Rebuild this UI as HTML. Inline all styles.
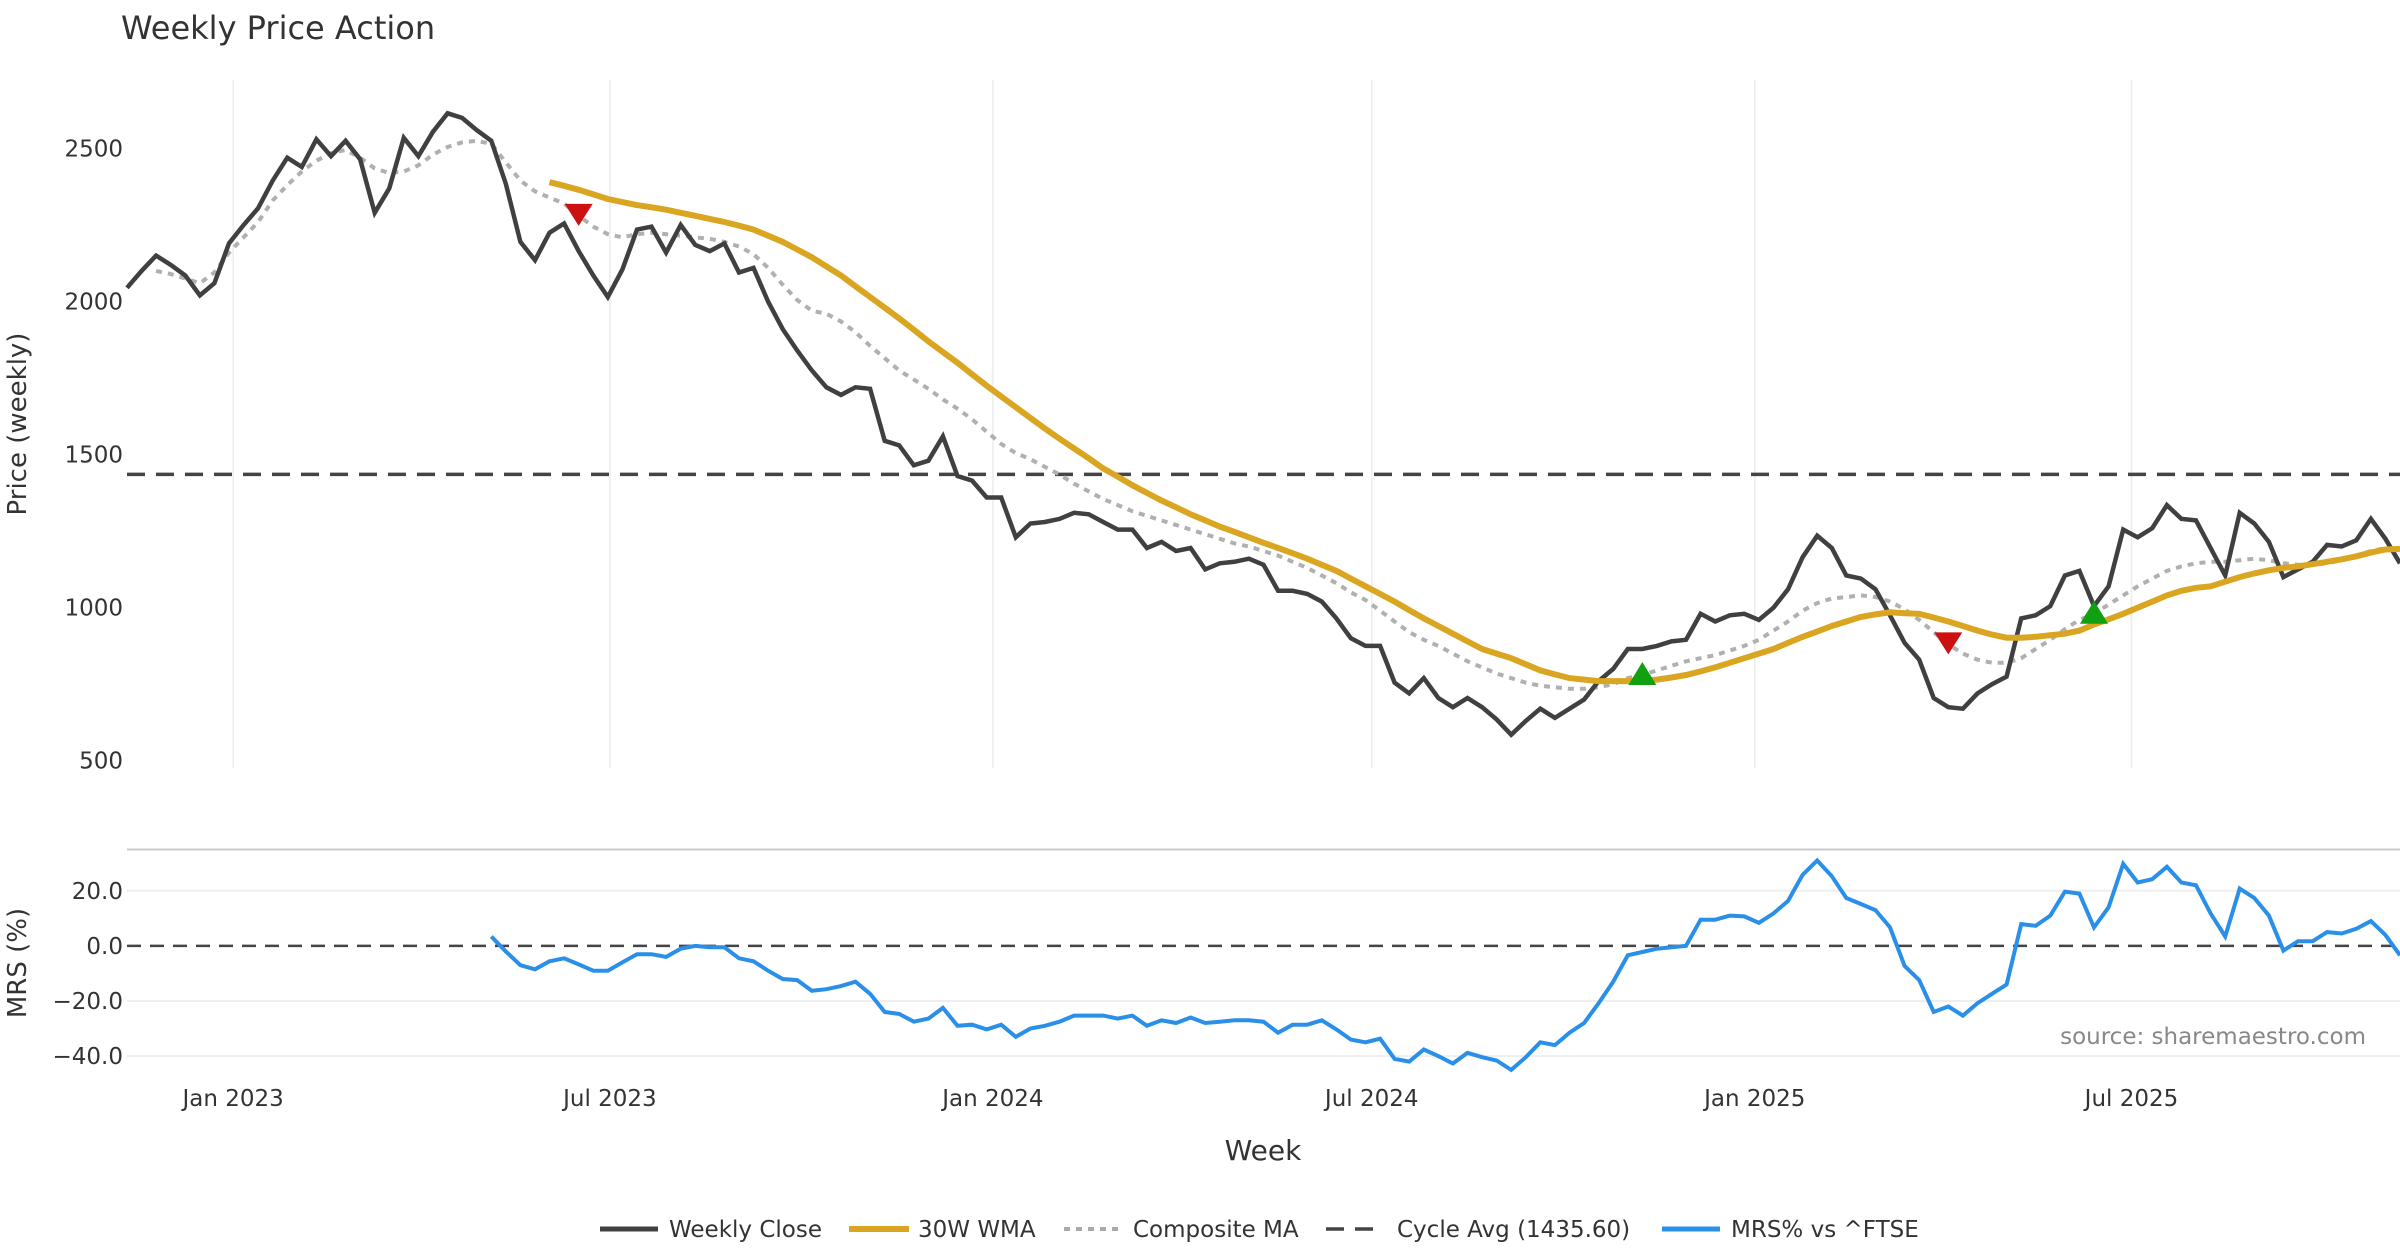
<!DOCTYPE html>
<html><head><meta charset="utf-8"><title>Weekly Price Action</title>
<style>
html,body{margin:0;padding:0;background:#fff;}
svg{display:block;font-family:"DejaVu Sans","Liberation Sans",sans-serif;}
</style></head>
<body>
<svg id="chart" width="2400" height="1260" viewBox="0 0 2400 1260" xmlns="http://www.w3.org/2000/svg">
<text x="121" y="39" font-size="32" fill="#333">Weekly Price Action</text>
<g id="grid"></g>
<g id="series"></g>
<g id="axes"></g>
<text x="0" y="0" font-size="26" fill="#333" text-anchor="middle" transform="translate(26,424) rotate(-90)">Price (weekly)</text>
<text x="0" y="0" font-size="26" fill="#333" text-anchor="middle" transform="translate(26,963) rotate(-90)">MRS (%)</text>
<text x="1263" y="1160" font-size="28" fill="#333" text-anchor="middle">Week</text>
<text x="2366" y="1044" font-size="23" fill="#888" text-anchor="end">source: sharemaestro.com</text>
<g id="legend">
  <g><line x1="600" y1="1229" x2="658" y2="1229" stroke="#404040" stroke-width="5"/><text x="669" y="1237" font-size="23" fill="#333">Weekly Close</text></g>
  <g><line x1="849" y1="1229" x2="909" y2="1229" stroke="#DAA520" stroke-width="6"/><text x="918" y="1237" font-size="23" fill="#333">30W WMA</text></g>
  <g><line x1="1064" y1="1229" x2="1122" y2="1229" stroke="#aaa" stroke-width="4" stroke-dasharray="6,6"/><text x="1133" y="1237" font-size="23" fill="#333">Composite MA</text></g>
  <g><line x1="1326" y1="1229" x2="1384" y2="1229" stroke="#444" stroke-width="3.5" stroke-dasharray="18,11"/><text x="1397" y="1237" font-size="23" fill="#333">Cycle Avg (1435.60)</text></g>
  <g><line x1="1662" y1="1229" x2="1720" y2="1229" stroke="#2a8fe8" stroke-width="5"/><text x="1731" y="1237" font-size="23" fill="#333">MRS% vs ^FTSE</text></g>
</g>
</svg>
<script>
const startDate = new Date(2022, 10, 11);
const closes = [2045,2100,2150,2120,2085,2020,2060,2190,2250,2305,2395,2470,2440,2530,2475,2525,2465,2290,2370,2535,2475,2555,2615,2600,2560,2525,2385,2195,2135,2225,2255,2165,2085,2015,2105,2235,2245,2160,2250,2185,2165,2190,2095,2110,2000,1910,1840,1775,1720,1695,1720,1715,1545,1530,1465,1480,1560,1430,1415,1360,1360,1230,1275,1280,1290,1310,1305,1280,1255,1255,1195,1215,1185,1195,1125,1145,1150,1160,1140,1055,1055,1045,1020,965,900,875,875,755,720,770,705,675,705,675,635,585,630,670,640,670,700,760,800,865,865,875,890,895,980,955,975,980,960,1000,1060,1165,1235,1195,1105,1095,1060,975,885,830,705,675,670,720,750,775,965,975,1005,1105,1120,1005,1070,1255,1230,1260,1335,1290,1285,1195,1105,1310,1275,1215,1100,1125,1150,1205,1200,1220,1290,1225,1145];
const wma30 = [2390,2378,2365,2350,2335,2325,2315,2308,2300,2290,2280,2270,2260,2248,2235,2215,2195,2170,2145,2115,2085,2050,2015,1980,1945,1908,1870,1835,1800,1762,1725,1690,1655,1620,1585,1552,1520,1488,1455,1428,1400,1375,1350,1328,1305,1285,1265,1248,1230,1212,1195,1178,1160,1140,1120,1095,1070,1045,1020,992,965,940,915,890,865,850,835,815,795,782,770,765,760,760,760,762,765,772,780,792,805,820,835,850,865,885,905,922,940,955,970,978,985,982,980,968,955,940,925,912,902,902,905,910,915,925,945,962,980,1000,1020,1040,1055,1065,1070,1085,1100,1112,1122,1130,1135,1142,1150,1158,1168,1180,1190,1192];
const compositeMA = [2100,2090,2075,2060,2095,2160,2210,2260,2330,2380,2425,2460,2485,2495,2470,2435,2420,2425,2445,2480,2505,2520,2525,2515,2455,2395,2360,2340,2320,2280,2245,2220,2210,2220,2225,2220,2215,2210,2205,2195,2180,2155,2110,2055,2005,1970,1960,1935,1900,1855,1815,1775,1745,1715,1680,1650,1615,1575,1535,1505,1485,1460,1435,1405,1380,1355,1335,1315,1300,1285,1270,1255,1240,1225,1210,1200,1185,1170,1150,1130,1105,1080,1050,1025,990,955,920,895,875,850,825,805,785,770,755,745,740,735,735,740,750,770,780,795,810,825,835,845,860,875,895,925,955,990,1015,1030,1035,1040,1035,1020,995,960,920,880,850,830,820,820,835,865,895,930,960,980,1010,1040,1070,1095,1120,1135,1145,1150,1150,1155,1160,1155,1145,1140,1140,1145,1155,1170,1185,1195,1190];
const mrs = [3.4,-2,-7,-8.5,-5.6,-4.5,-6.7,-9,-9,-6,-3,-3,-4,-1,0,-0.5,-0.5,-4.5,-5.6,-9,-12,-12.4,-16.3,-15.7,-14.6,-13,-17.4,-24,-24.7,-27.5,-26.4,-22.5,-29,-28.6,-30.3,-28.6,-33,-30,-29,-27.5,-25.3,-25.3,-25.3,-26.4,-25.3,-29,-27,-28,-26,-28,-27.5,-27,-27,-27.5,-31.5,-28.6,-28.6,-27,-30.3,-34,-35,-33.7,-41,-42,-37.6,-40,-42.7,-38.8,-40.4,-41.6,-45,-40.4,-35,-36,-31.5,-28,-20.8,-13,-3.4,-2.2,-1,-0.5,0,9.5,9.5,11,10.7,8.4,11.8,16.3,25.8,31,25.3,17.4,15.2,13,6.7,-7.3,-12.4,-24,-22,-25.3,-20.8,-17.4,-14,7.9,7.3,11,19.7,19,6.7,14,29.8,23,24.2,28.7,23,22,11.8,3.4,20.8,17.4,11,-1.7,1.7,1.7,5,4.5,6.2,9,4,-3.4];
const cycleAvg = 1435.6;
const priceTicks = [500,1000,1500,2000,2500];
const mrsTicks = [-40,-20,0,20];
const mrsTickLabels = ["\u221240.0","\u221220.0","0.0","20.0"];
const dateTicks = [[2023,0],[2023,6],[2024,0],[2024,6],[2025,0],[2025,6]];
const dateTickLabels = ["Jan 2023","Jul 2023","Jan 2024","Jul 2024","Jan 2025","Jul 2025"];
const sellSignals = [31,125];
const buySignals = [104,135];

const NS="http://www.w3.org/2000/svg";
const N = closes.length;
const X0=127, X1=2400;
function xIdx(i){return X0+i*(X1-X0)/(N-1);}
function xDate(d){return xIdx((d-startDate)/(7*86400000));}
function yP(v){return 148.5+(2500-v)*0.30612;}
function yM(v){return 945.9-v*2.755;}
function el(tag,attrs,parent){const e=document.createElementNS(NS,tag);for(const k in attrs)e.setAttribute(k,attrs[k]);parent.appendChild(e);return e;}
const grid=document.getElementById('grid'), ser=document.getElementById('series'), axes=document.getElementById('axes');

dateTicks.forEach((t,k)=>{
  const x=xDate(new Date(t[0],t[1],1));
  const g=el('line',{x1:x,x2:x,y1:80,y2:768,stroke:'#ececec','stroke-width':1.5},grid);
  
  
  const tx=el('text',{x:x,y:1106,'font-size':23,fill:'#333','text-anchor':'middle'},axes);
  tx.textContent=dateTickLabels[k];
  
  
});
priceTicks.forEach(v=>{
  const t=el('text',{x:123,y:yP(v)+8,'font-size':23,fill:'#333','text-anchor':'end'},axes);
  t.textContent=String(v);
  
  
});
const sep=el('line',{x1:127,x2:2400,y1:849.5,y2:849.5,stroke:'#cccccc','stroke-width':2},grid);


mrsTicks.forEach((v,k)=>{
  if(v!==0){const g=el('line',{x1:127,x2:2400,y1:yM(v),y2:yM(v),stroke:'#eeeeee','stroke-width':2},grid);
  
  }
  const t=el('text',{x:123,y:yM(v)+8,'font-size':23,fill:'#333','text-anchor':'end'},axes);
  t.textContent=mrsTickLabels[k];
  
  
});
const cyc=el('line',{x1:127,x2:2400,y1:yP(cycleAvg),y2:yP(cycleAvg),stroke:'#444','stroke-width':3.5,'stroke-dasharray':'18,11'},ser);


const zero=el('line',{x1:127,x2:2400,y1:yM(0),y2:yM(0),stroke:'#444','stroke-width':2.5,'stroke-dasharray':'14,9'},ser);



function pts(arr,yf){const off=N-arr.length;return arr.map((v,i)=>xIdx(i+off).toFixed(1)+','+yf(v).toFixed(1)).join(' ');}
const cm=el('polyline',{points:pts(compositeMA,yP),fill:'none',stroke:'#b0b0b0','stroke-width':4,'stroke-dasharray':'6,6'},ser);


const cl=el('polyline',{points:pts(closes,yP),fill:'none',stroke:'#404040','stroke-width':4.5,'stroke-linejoin':'miter'},ser);


const wm=el('polyline',{points:pts(wma30,yP),fill:'none',stroke:'#DAA520','stroke-width':6},ser);


const mr=el('polyline',{points:pts(mrs,yM),fill:'none',stroke:'#2a8fe8','stroke-width':4},ser);



const cOff=N-compositeMA.length;
sellSignals.forEach(i=>{
  const x=xIdx(i), y=yP(compositeMA[i-cOff]);
  const p=el('polygon',{points:`${x-14},${y-12} ${x+14},${y-12} ${x},${y+10}`,fill:'#cc1111'},ser);
  
  
});
buySignals.forEach(i=>{
  const x=xIdx(i), y=yP(compositeMA[i-cOff]);
  const p=el('polygon',{points:`${x-14},${y+10} ${x+14},${y+10} ${x},${y-13}`,fill:'#11a011'},ser);
  
  
});
</script>
</body></html>
